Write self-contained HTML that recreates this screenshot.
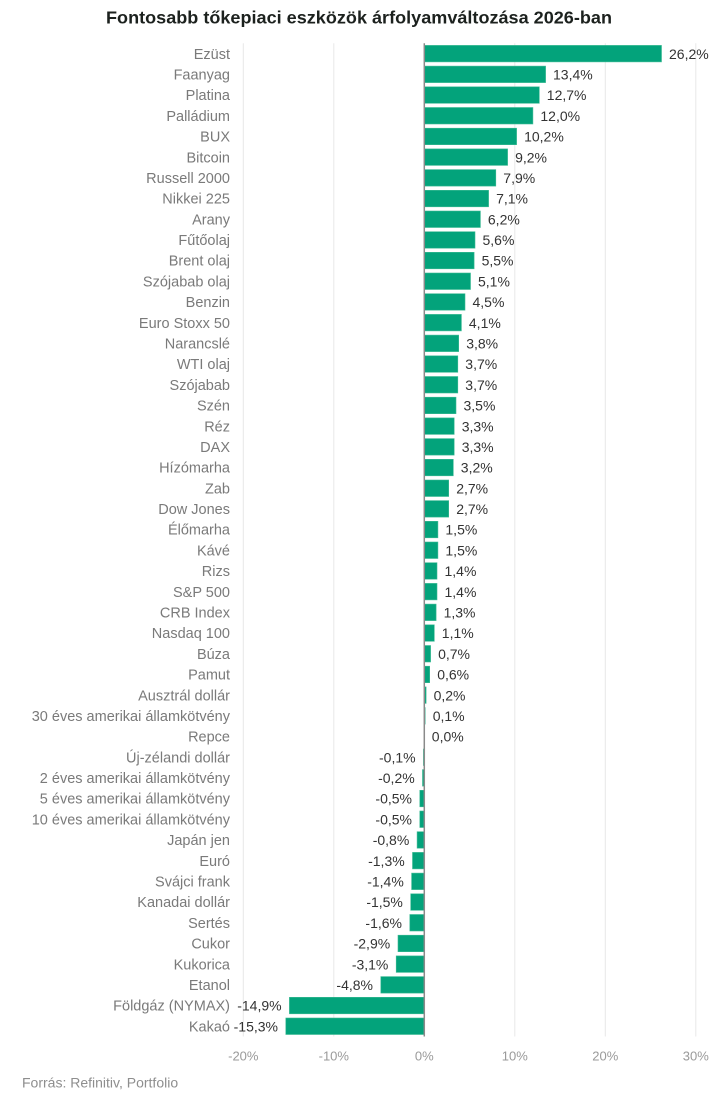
<!DOCTYPE html>
<html><head><meta charset="utf-8"><style>
html,body{margin:0;padding:0;background:#fff;}
svg{display:block;}
text{font-family:"Liberation Sans",Arial,sans-serif;}
</style></head><body>
<svg xmlns="http://www.w3.org/2000/svg" width="718" height="1101" viewBox="0 0 718 1101">
<rect width="718" height="1101" fill="#fff"/>
<text x="359" y="23.5" text-anchor="middle" font-size="17.5" font-weight="bold" fill="#1c211e" textLength="506" lengthAdjust="spacingAndGlyphs">Fontosabb tőkepiaci eszközök árfolyamváltozása 2026-ban</text>
<g stroke="#e8e8e8" stroke-width="1">
<line x1="243.3" y1="43.3" x2="243.3" y2="1036.5"/>
<line x1="333.8" y1="43.3" x2="333.8" y2="1036.5"/>
<line x1="514.8" y1="43.3" x2="514.8" y2="1036.5"/>
<line x1="605.3" y1="43.3" x2="605.3" y2="1036.5"/>
<line x1="695.8" y1="43.3" x2="695.8" y2="1036.5"/>
</g>
<g fill="#03a37b" stroke="#3fbb95" stroke-width="0.6">
<rect x="424.3" y="45.4" width="237.2" height="16.5"/>
<rect x="424.3" y="66.1" width="121.3" height="16.5"/>
<rect x="424.3" y="86.8" width="115.0" height="16.5"/>
<rect x="424.3" y="107.5" width="108.6" height="16.5"/>
<rect x="424.3" y="128.2" width="92.3" height="16.5"/>
<rect x="424.3" y="148.9" width="83.3" height="16.5"/>
<rect x="424.3" y="169.6" width="71.5" height="16.5"/>
<rect x="424.3" y="190.3" width="64.3" height="16.5"/>
<rect x="424.3" y="211.0" width="56.1" height="16.5"/>
<rect x="424.3" y="231.7" width="50.7" height="16.5"/>
<rect x="424.3" y="252.3" width="49.8" height="16.5"/>
<rect x="424.3" y="273.0" width="46.2" height="16.5"/>
<rect x="424.3" y="293.7" width="40.7" height="16.5"/>
<rect x="424.3" y="314.4" width="37.1" height="16.5"/>
<rect x="424.3" y="335.1" width="34.4" height="16.5"/>
<rect x="424.3" y="355.8" width="33.5" height="16.5"/>
<rect x="424.3" y="376.5" width="33.5" height="16.5"/>
<rect x="424.3" y="397.2" width="31.7" height="16.5"/>
<rect x="424.3" y="417.9" width="29.9" height="16.5"/>
<rect x="424.3" y="438.6" width="29.9" height="16.5"/>
<rect x="424.3" y="459.3" width="29.0" height="16.5"/>
<rect x="424.3" y="480.0" width="24.4" height="16.5"/>
<rect x="424.3" y="500.6" width="24.4" height="16.5"/>
<rect x="424.3" y="521.3" width="13.6" height="16.5"/>
<rect x="424.3" y="542.0" width="13.6" height="16.5"/>
<rect x="424.3" y="562.7" width="12.7" height="16.5"/>
<rect x="424.3" y="583.4" width="12.7" height="16.5"/>
<rect x="424.3" y="604.1" width="11.8" height="16.5"/>
<rect x="424.3" y="624.8" width="10.0" height="16.5"/>
<rect x="424.3" y="645.5" width="6.3" height="16.5"/>
<rect x="424.3" y="666.2" width="5.4" height="16.5"/>
<rect x="424.3" y="686.9" width="1.8" height="16.5"/>
<rect x="424.3" y="707.6" width="0.9" height="16.5"/>
<rect x="423.4" y="749.0" width="0.9" height="16.5"/>
<rect x="422.5" y="769.6" width="1.8" height="16.5"/>
<rect x="419.8" y="790.3" width="4.5" height="16.5"/>
<rect x="419.8" y="811.0" width="4.5" height="16.5"/>
<rect x="417.1" y="831.7" width="7.2" height="16.5"/>
<rect x="412.5" y="852.4" width="11.8" height="16.5"/>
<rect x="411.6" y="873.1" width="12.7" height="16.5"/>
<rect x="410.7" y="893.8" width="13.6" height="16.5"/>
<rect x="409.8" y="914.5" width="14.5" height="16.5"/>
<rect x="398.0" y="935.2" width="26.3" height="16.5"/>
<rect x="396.2" y="955.9" width="28.1" height="16.5"/>
<rect x="380.8" y="976.6" width="43.5" height="16.5"/>
<rect x="289.4" y="997.3" width="134.9" height="16.5"/>
<rect x="285.8" y="1018.0" width="138.5" height="16.5"/>
</g>
<line x1="424.3" y1="43.3" x2="424.3" y2="1036.5" stroke="#8a8a8a" stroke-width="1.5"/>
<g font-size="13" fill="#9a9a9a" text-anchor="middle">
<text x="243.3" y="1060.7">-20%</text>
<text x="333.8" y="1060.7">-10%</text>
<text x="424.3" y="1060.7">0%</text>
<text x="514.8" y="1060.7">10%</text>
<text x="605.3" y="1060.7">20%</text>
<text x="695.8" y="1060.7">30%</text>
</g>
<text x="22" y="1087.3" font-size="14" fill="#8e8e8e">Forrás: Refinitiv, Portfolio</text>
<g font-size="14.5" fill="#7a7a7a" text-anchor="end">
<text x="230" y="58.8">Ezüst</text>
<text x="230" y="79.5">Faanyag</text>
<text x="230" y="100.2">Platina</text>
<text x="230" y="120.9">Palládium</text>
<text x="230" y="141.6">BUX</text>
<text x="230" y="162.3">Bitcoin</text>
<text x="230" y="183.0">Russell 2000</text>
<text x="230" y="203.7">Nikkei 225</text>
<text x="230" y="224.4">Arany</text>
<text x="230" y="245.1">Fűtőolaj</text>
<text x="230" y="265.7">Brent olaj</text>
<text x="230" y="286.4">Szójabab olaj</text>
<text x="230" y="307.1">Benzin</text>
<text x="230" y="327.8">Euro Stoxx 50</text>
<text x="230" y="348.5">Narancslé</text>
<text x="230" y="369.2">WTI olaj</text>
<text x="230" y="389.9">Szójabab</text>
<text x="230" y="410.6">Szén</text>
<text x="230" y="431.3">Réz</text>
<text x="230" y="452.0">DAX</text>
<text x="230" y="472.7">Hízómarha</text>
<text x="230" y="493.4">Zab</text>
<text x="230" y="514.0">Dow Jones </text>
<text x="230" y="534.7">Élőmarha</text>
<text x="230" y="555.4">Kávé</text>
<text x="230" y="576.1">Rizs</text>
<text x="230" y="596.8">S&amp;P 500 </text>
<text x="230" y="617.5">CRB Index</text>
<text x="230" y="638.2">Nasdaq 100</text>
<text x="230" y="658.9">Búza</text>
<text x="230" y="679.6">Pamut</text>
<text x="230" y="700.3">Ausztrál dollár</text>
<text x="230" y="721.0">30 éves amerikai államkötvény</text>
<text x="230" y="741.7">Repce</text>
<text x="230" y="762.4">Új-zélandi dollár</text>
<text x="230" y="783.0">2 éves amerikai államkötvény</text>
<text x="230" y="803.7">5 éves amerikai államkötvény</text>
<text x="230" y="824.4">10 éves amerikai államkötvény</text>
<text x="230" y="845.1">Japán jen</text>
<text x="230" y="865.8">Euró</text>
<text x="230" y="886.5">Svájci frank</text>
<text x="230" y="907.2">Kanadai dollár</text>
<text x="230" y="927.9">Sertés</text>
<text x="230" y="948.6">Cukor</text>
<text x="230" y="969.3">Kukorica</text>
<text x="230" y="990.0">Etanol</text>
<text x="230" y="1010.7">Földgáz (NYMAX)</text>
<text x="230" y="1031.4">Kakaó</text>
</g>
<g font-size="14" fill="#333">
<text x="669" y="58.8">26,2%</text>
<text x="553" y="79.5">13,4%</text>
<text x="546.8" y="100.2">12,7%</text>
<text x="540.4" y="120.9">12,0%</text>
<text x="524.1" y="141.6">10,2%</text>
<text x="515.1" y="162.3">9,2%</text>
<text x="503.3" y="183.0">7,9%</text>
<text x="496.1" y="203.7">7,1%</text>
<text x="487.9" y="224.4">6,2%</text>
<text x="482.5" y="245.1">5,6%</text>
<text x="481.6" y="265.7">5,5%</text>
<text x="478.0" y="286.4">5,1%</text>
<text x="472.5" y="307.1">4,5%</text>
<text x="468.9" y="327.8">4,1%</text>
<text x="466.2" y="348.5">3,8%</text>
<text x="465.3" y="369.2">3,7%</text>
<text x="465.3" y="389.9">3,7%</text>
<text x="463.5" y="410.6">3,5%</text>
<text x="461.7" y="431.3">3,3%</text>
<text x="461.7" y="452.0">3,3%</text>
<text x="460.8" y="472.7">3,2%</text>
<text x="456.2" y="493.4">2,7%</text>
<text x="456.2" y="514.0">2,7%</text>
<text x="445.4" y="534.7">1,5%</text>
<text x="445.4" y="555.4">1,5%</text>
<text x="444.5" y="576.1">1,4%</text>
<text x="444.5" y="596.8">1,4%</text>
<text x="443.6" y="617.5">1,3%</text>
<text x="441.8" y="638.2">1,1%</text>
<text x="438.1" y="658.9">0,7%</text>
<text x="437.2" y="679.6">0,6%</text>
<text x="433.6" y="700.3">0,2%</text>
<text x="432.7" y="721.0">0,1%</text>
<text x="431.8" y="741.7">0,0%</text>
</g>
<g font-size="14" fill="#333" text-anchor="end">
<text x="415.6" y="762.4">-0,1%</text>
<text x="414.7" y="783.0">-0,2%</text>
<text x="412.0" y="803.7">-0,5%</text>
<text x="412.0" y="824.4">-0,5%</text>
<text x="409.3" y="845.1">-0,8%</text>
<text x="404.7" y="865.8">-1,3%</text>
<text x="403.8" y="886.5">-1,4%</text>
<text x="402.9" y="907.2">-1,5%</text>
<text x="402.0" y="927.9">-1,6%</text>
<text x="390.2" y="948.6">-2,9%</text>
<text x="388.4" y="969.3">-3,1%</text>
<text x="373.0" y="990.0">-4,8%</text>
<text x="281.6" y="1010.7">-14,9%</text>
<text x="278.0" y="1031.4">-15,3%</text>
</g>
</svg>
</body></html>
